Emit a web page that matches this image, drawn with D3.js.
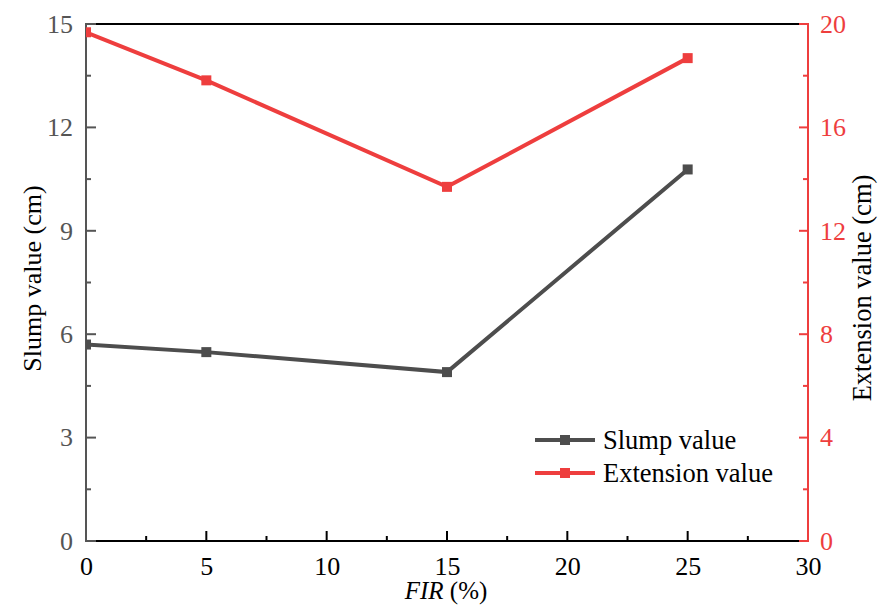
<!DOCTYPE html>
<html>
<head>
<meta charset="utf-8">
<script src="https://cdn.jsdelivr.net/npm/d3@7"></script>
<style>
  html, body { margin: 0; padding: 0; background: #fff; }
  svg { display: block; }
</style>
</head>
<body>
<svg id="chart" width="879" height="614"></svg>
<script>
// FIR dosage (%) and the two measured series
const fir = [0, 5, 15, 25];
const slump = [5.70, 5.48, 4.90, 10.78];
const extension = [19.68, 17.82, 13.70, 18.68];

const xTicks = [0, 5, 10, 15, 20, 25, 30];
const leftTicks = [0, 3, 6, 9, 12, 15];
const rightTicks = [0, 4, 8, 12, 16, 20];

const seriesNames = ["Slump value", "Extension value"];
const colSlump = "#4d4d4d";
const colExt = "#ee3e3e";
const leftAxisCol = "#555555";
const serif = "Liberation Serif";

const svg = d3.select("#chart");
const m = { left: 86, right: 808, top: 24, bottom: 541 };

const x = d3.scaleLinear().domain([0, 30]).range([m.left, m.right]);
const yL = d3.scaleLinear().domain([0, 15]).range([m.bottom, m.top]);
const yR = d3.scaleLinear().domain([0, 20]).range([m.bottom, m.top]);

svg.append("defs").append("clipPath").attr("id", "plot")
  .append("rect").attr("x", m.left).attr("y", m.top)
  .attr("width", m.right - m.left).attr("height", m.bottom - m.top);

// top frame line
svg.append("line").attr("x1", m.left).attr("x2", m.right)
  .attr("y1", m.top).attr("y2", m.top)
  .attr("stroke", "#000").attr("stroke-width", 2);

// minor tick positions halfway between majors
function minors(major) {
  const out = [];
  for (let i = 0; i < major.length - 1; i++) out.push((major[i] + major[i + 1]) / 2);
  return out;
}

// bottom axis
const gx = svg.append("g").attr("transform", `translate(0,${m.bottom})`);
gx.call(d3.axisBottom(x).tickValues(xTicks).tickSize(0).tickPadding(0).tickFormat(d3.format("d")));
gx.attr("font-family", serif).attr("font-size", 26);
gx.select(".domain").remove();
gx.append("line").attr("x1", m.left).attr("x2", m.right).attr("stroke", "#000").attr("stroke-width", 2);
gx.selectAll(".tick text").attr("fill", "#000").attr("y", 34).attr("dy", 0);
xTicks.forEach(t => gx.append("line").attr("x1", x(t)).attr("x2", x(t)).attr("y1", 0).attr("y2", -10).attr("stroke", "#000").attr("stroke-width", 2));
minors(xTicks).forEach(t => gx.append("line").attr("x1", x(t)).attr("x2", x(t)).attr("y1", 0).attr("y2", -5).attr("stroke", "#000").attr("stroke-width", 2));

// left axis
const gl = svg.append("g").attr("transform", `translate(${m.left},0)`);
gl.call(d3.axisLeft(yL).tickValues(leftTicks).tickSize(0).tickPadding(13).tickFormat(d3.format("d")));
gl.attr("font-family", serif).attr("font-size", 26);
gl.select(".domain").remove();
gl.append("line").attr("y1", m.top - 1).attr("y2", m.bottom + 1).attr("stroke", leftAxisCol).attr("stroke-width", 2);
gl.selectAll(".tick text").attr("fill", leftAxisCol);
leftTicks.forEach(t => gl.append("line").attr("x1", 0).attr("x2", 10).attr("y1", yL(t)).attr("y2", yL(t)).attr("stroke", leftAxisCol).attr("stroke-width", 2));
minors(leftTicks).forEach(t => gl.append("line").attr("x1", 0).attr("x2", 5).attr("y1", yL(t)).attr("y2", yL(t)).attr("stroke", leftAxisCol).attr("stroke-width", 2));

// right axis
const gr = svg.append("g").attr("transform", `translate(${m.right},0)`);
gr.call(d3.axisRight(yR).tickValues(rightTicks).tickSize(0).tickPadding(12).tickFormat(d3.format("d")));
gr.attr("font-family", serif).attr("font-size", 26);
gr.select(".domain").remove();
gr.append("line").attr("y1", m.top - 1).attr("y2", m.bottom + 1).attr("stroke", colExt).attr("stroke-width", 2);
gr.selectAll(".tick text").attr("fill", colExt);
rightTicks.forEach(t => gr.append("line").attr("x1", 0).attr("x2", -9).attr("y1", yR(t)).attr("y2", yR(t)).attr("stroke", colExt).attr("stroke-width", 2));
minors(rightTicks).forEach(t => gr.append("line").attr("x1", 0).attr("x2", -5).attr("y1", yR(t)).attr("y2", yR(t)).attr("stroke", colExt).attr("stroke-width", 2));

// axis titles
svg.append("text").attr("transform", "translate(41,278.5) rotate(-90)")
  .attr("text-anchor", "middle").attr("font-family", serif).attr("font-size", 26)
  .attr("fill", "#000").text("Slump value (cm)");
svg.append("text").attr("transform", "translate(871,288) rotate(-90)")
  .attr("text-anchor", "middle").attr("font-family", serif).attr("font-size", 26.5)
  .attr("fill", "#000").text("Extension value (cm)");
const xt = svg.append("text").attr("x", 446).attr("y", 599)
  .attr("text-anchor", "middle").attr("font-family", serif).attr("font-size", 25).attr("fill", "#000");
xt.append("tspan").attr("font-style", "italic").text("FIR");
xt.append("tspan").text(" (%)");

// series
const plot = svg.append("g").attr("clip-path", "url(#plot)");
function drawSeries(vals, yScale, col) {
  const pts = fir.map((f, i) => [x(f), yScale(vals[i])]);
  plot.append("path").attr("d", d3.line()(pts)).attr("fill", "none")
    .attr("stroke", col).attr("stroke-width", 4).attr("stroke-linejoin", "miter");
  plot.selectAll(null).data(pts).enter().append("rect")
    .attr("x", d => d[0] - 5).attr("y", d => d[1] - 5)
    .attr("width", 10).attr("height", 10).attr("fill", col);
}
drawSeries(slump, yL, colSlump);
drawSeries(extension, yR, colExt);

// legend
const legend = svg.append("g");
[[seriesNames[0], colSlump, 440], [seriesNames[1], colExt, 473]].forEach(([name, col, ly]) => {
  legend.append("line").attr("x1", 535).attr("x2", 595).attr("y1", ly).attr("y2", ly)
    .attr("stroke", col).attr("stroke-width", 4);
  legend.append("rect").attr("x", 560).attr("y", ly - 5).attr("width", 10).attr("height", 10).attr("fill", col);
  legend.append("text").attr("x", 603).attr("y", ly + 9).attr("font-family", serif)
    .attr("font-size", 26.5).attr("fill", "#000").text(name);
});
</script>
</body>
</html>
